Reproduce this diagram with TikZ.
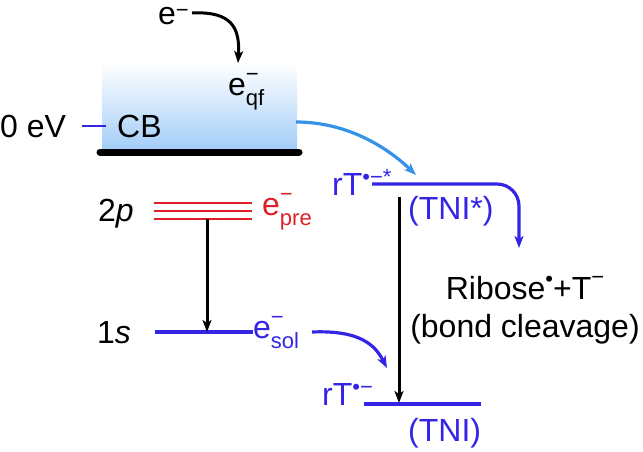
\documentclass[tikz,border=0pt]{standalone}
\usepackage{fontspec}
\setmainfont{Liberation Sans}
\usetikzlibrary{arrows.meta}
\definecolor{levblue}{RGB}{52,36,228}
\definecolor{levred}{RGB}{222,32,38}
\definecolor{cbarrow}{RGB}{52,146,232}
\definecolor{cbfill}{RGB}{160,204,248}
\newcommand{\supsz}{\fontsize{22}{22}\selectfont}
\newcommand{\elec}[1]{e\rlap{\raisebox{14pt}{\supsz −}}\raisebox{-10pt}{\supsz #1}}

\begin{document}
\begin{tikzpicture}[x=1pt,y=-1pt,
  every node/.style={inner sep=0pt,font=\fontsize{32}{38}\selectfont},
  lev/.style={line width=3.2pt},
  redlev/.style={line width=2.2pt,levred},
  arr/.style={line width=3pt,-{Stealth[length=12pt,width=9pt,inset=3pt]}}]
\useasboundingbox (0,0) rectangle (643,451);
\shade[top color=white,bottom color=cbfill] (102,63) rectangle (297,152);
\coordinate (cbL) at (100,152);
\coordinate (cbR) at (299,152);
\draw[line width=7pt,line cap=round] (cbL) -- (cbR);
\node[anchor=base west] (zero) at (0,137) {0 eV};
\node[anchor=base west] (cb) at (117,137) {CB};
\coordinate (tickL) at (82,126);
\coordinate (tickR) at (106,126);
\draw[levblue,line width=2.5pt] (tickL) -- (tickR);
\node[anchor=base west] (ein) at (158,24) {e\raisebox{7pt}{\supsz −}};
\coordinate (einout) at (192,13);
\coordinate (eqftip) at (238,63);
\draw[arr] (einout) .. controls (232,11) and (240,28) .. (eqftip);
\node[anchor=base west] (eqf) at (228,95) {\elec{qf}};
\coordinate (cbout) at (296,122);
\coordinate (tnsstip) at (416,175);
\draw[arr,cbarrow,line width=3.2pt] (cbout) .. controls (350,122) and (390,150) .. (tnsstip);
\node[anchor=base west] (twop) at (98,221) {2\textit{p}};
\foreach \y in {203,211,219} {
  \draw[redlev] (154,\y) -- (252,\y);
}
\node[anchor=base west,text=levred] (epre) at (262,215) {\elec{pre}};
\coordinate (preL) at (154,219);
\coordinate (preR) at (252,219);
\node[anchor=base west] (ones) at (97,343) {1\textit{s}};
\coordinate (solL) at (155,332);
\coordinate (solR) at (253,332);
\draw[lev,levblue] (solL) -- (solR);
\node[anchor=base west,text=levblue] (esol) at (253,338) {\elec{sol}};
\coordinate (relaxtop) at (207,219);
\coordinate (relaxtip) at (207,332);
\draw[arr] (relaxtop) -- (relaxtip);
\node[anchor=base west,text=levblue] (rtss) at (332,195) {rT\raisebox{11pt}{\supsz •−*}};
\coordinate (tnssL) at (372,184);
\coordinate (tnssC) at (519,184);
\coordinate (cleavtip) at (519,248);
\draw[arr,levblue,line width=3.2pt,rounded corners=22pt] (tnssL) -- (tnssC) -- (cleavtip);
\node[anchor=base west,text=levblue] (tnss) at (408,219) {(TNI*)};
\node[anchor=base] (ribose) at (525,299) {Ribose\raisebox{13pt}{\supsz •}+T\raisebox{15pt}{\supsz −}};
\node[anchor=base] (cleave) at (525,337) {(bond cleavage)};
\node[anchor=base west,text=levblue] (rts) at (322,405) {rT\raisebox{11pt}{\supsz •−}};
\coordinate (tnsL) at (364,404);
\coordinate (tnsR) at (481,404);
\draw[lev,levblue] (tnsL) -- (tnsR);
\node[anchor=base west,text=levblue] (tns) at (408,441) {(TNI)};
\coordinate (decaytop) at (399,197);
\coordinate (decaytip) at (399,403);
\draw[arr] (decaytop) -- (decaytip);
\coordinate (solout) at (312,332);
\coordinate (soltip) at (387,368);
\draw[arr,levblue,line width=3.2pt] (solout) .. controls (360,330) and (375,345) .. (soltip);
\end{tikzpicture}
\end{document}
